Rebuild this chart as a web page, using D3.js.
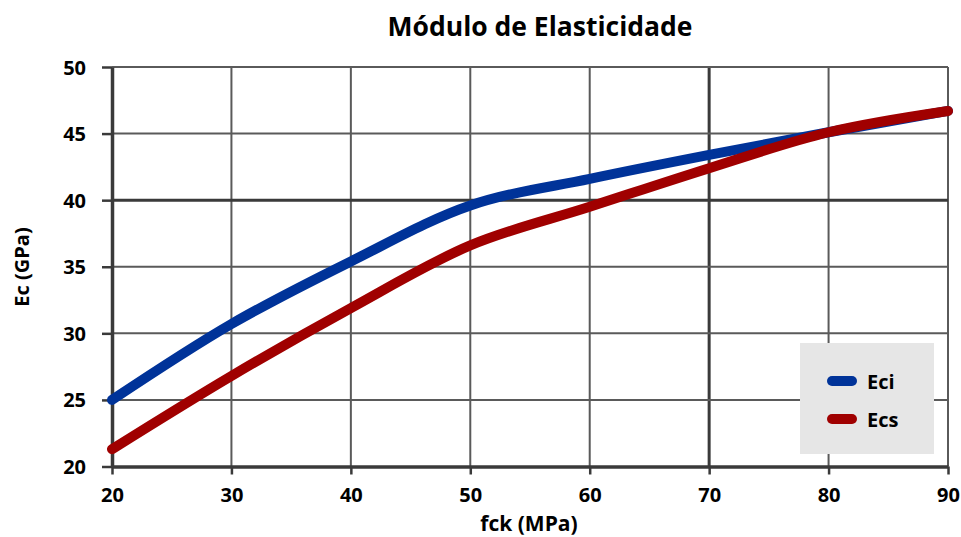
<!DOCTYPE html>
<html>
<head>
<meta charset="utf-8">
<script src="https://cdn.jsdelivr.net/npm/d3@7"></script>
<style>
  html, body { margin: 0; padding: 0; background: #fff; }
  svg text { font-family: "Open Sans", "DejaVu Sans", sans-serif; font-weight: bold; fill: #000; }
</style>
</head>
<body>
<svg id="chart" width="961" height="537"></svg>
<script>
// fck (MPa) values on the horizontal axis
const fck = [20, 30, 40, 50, 60, 70, 80, 90];
// Initial tangent modulus Eci (GPa)
const eci = [25.0, 30.7, 35.4, 39.6, 41.6, 43.4, 45.1, 46.7];
// Secant modulus Ecs (GPa)
const ecs = [21.3, 26.8, 31.9, 36.6, 39.5, 42.4, 45.1, 46.7];
const xTicks = [20, 30, 40, 50, 60, 70, 80, 90];
const yTicks = [20, 25, 30, 35, 40, 45, 50];
const seriesNames = ["Eci", "Ecs"];
const seriesColors = ["#003399", "#a00000"];

const svg = d3.select("#chart");
const plotLeft = 112, plotRight = 948, plotTop = 67, plotBottom = 466.5;

const x = d3.scaleLinear().domain([20, 90]).range([plotLeft, plotRight]);
const y = d3.scaleLinear().domain([20, 50]).range([plotBottom, plotTop]);

// Title
svg.append("text")
  .attr("x", 540).attr("y", 36)
  .attr("text-anchor", "middle")
  .style("font-size", "26.5px")
  .text("Módulo de Elasticidade");

// Grid lines
const grid = svg.append("g");
grid.selectAll("line.v").data(xTicks.slice(1)).join("line")
  .attr("x1", d => x(d)).attr("x2", d => x(d))
  .attr("y1", plotTop).attr("y2", plotBottom)
  .attr("stroke", d => d === 70 ? "#3a3a3a" : "#5a5a5a")
  .attr("stroke-width", d => d === 70 ? 3 : 2);
grid.selectAll("line.h").data(yTicks.slice(1)).join("line")
  .attr("x1", plotLeft).attr("x2", plotRight)
  .attr("y1", d => y(d)).attr("y2", d => y(d))
  .attr("stroke", d => d === 40 ? "#3a3a3a" : "#5a5a5a")
  .attr("stroke-width", d => d === 40 ? 3 : 2);

// Axes
const xAxis = svg.append("g")
  .attr("transform", `translate(0,${plotBottom})`)
  .call(d3.axisBottom(x).tickValues(xTicks).tickSize(8).tickPadding(13).tickSizeOuter(0));
const yAxis = svg.append("g")
  .attr("transform", `translate(${plotLeft},0)`)
  .call(d3.axisLeft(y).tickValues(yTicks).tickSize(10).tickPadding(16).tickSizeOuter(0));
[xAxis, yAxis].forEach(g => {
  g.select(".domain").attr("stroke", "#3a3a3a").attr("stroke-width", 3.5);
  g.selectAll(".tick line").attr("stroke", "#3a3a3a").attr("stroke-width", 2.5);
  g.selectAll(".tick text").style("font-size", "20px").attr("fill", "#000");
});
yAxis.selectAll(".tick text").attr("dy", "0.35em");

// Axis titles
svg.append("text")
  .attr("x", 529).attr("y", 531)
  .attr("text-anchor", "middle")
  .style("font-size", "21px")
  .text("fck (MPa)");
svg.append("text")
  .attr("transform", "translate(29,267) rotate(-90)")
  .attr("text-anchor", "middle")
  .style("font-size", "20px")
  .text("Ec (GPa)");

// Series lines
const line = d3.line()
  .x((d, i) => x(fck[i]))
  .y(d => y(d))
  .curve(d3.curveCatmullRom.alpha(0.5));
[eci, ecs].forEach((vals, k) => {
  svg.append("path")
    .attr("d", line(vals))
    .attr("fill", "none")
    .attr("stroke", seriesColors[k])
    .attr("stroke-width", 10)
    .attr("stroke-linecap", "round")
    .attr("stroke-linejoin", "round");
});

// Legend
const lg = svg.append("g");
lg.append("rect")
  .attr("x", 800).attr("y", 343).attr("width", 134).attr("height", 111)
  .attr("fill", "#e6e6e6");
seriesNames.forEach((name, k) => {
  const ly = 381 + k * 38;
  lg.append("line")
    .attr("x1", 832).attr("x2", 852).attr("y1", ly).attr("y2", ly)
    .attr("stroke", seriesColors[k]).attr("stroke-width", 10)
    .attr("stroke-linecap", "round");
  lg.append("text")
    .attr("x", 867).attr("y", ly + 8)
    .style("font-size", "20px")
    .text(name);
});
</script>
</body>
</html>
